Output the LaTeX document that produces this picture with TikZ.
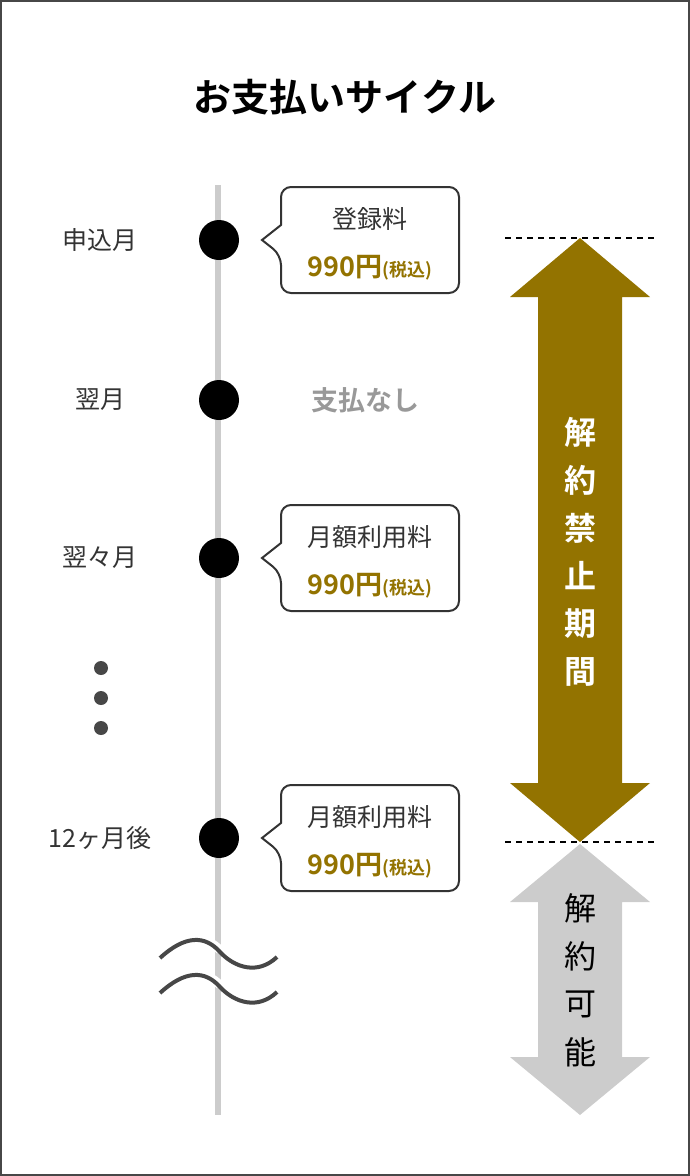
\documentclass[tikz,border=0pt]{standalone}
\usepackage{fontspec}
\setmainfont{Noto Sans CJK JP}
\newfontfamily\jpb{Noto Sans CJK JP Bold}
\definecolor{olive}{HTML}{937300}
\definecolor{txt}{HTML}{333333}
\definecolor{lgray}{HTML}{CCCCCC}
\begin{document}
\begin{tikzpicture}[x=1pt,y=-1pt,
  lbl/.style={text=txt,font=\fontsize{25}{25}\selectfont},
  dot/.style={circle,fill=black,minimum size=40pt,inner sep=0pt},
  price/.style={text=olive,font=\jpb\fontsize{27}{27}\selectfont},
  vch/.style={font=\jpb\fontsize{32}{32}\selectfont}]
\useasboundingbox (0,0) rectangle (690,1176);
\draw[line width=2pt,color=txt!90] (1,1) rectangle (689,1175);
\node (title) at (345,97) {\jpb\fontsize{38}{38}\selectfont お支払いサイクル};
\coordinate (lt) at (218,185); \coordinate (lb) at (218,1115);
\draw[line width=6pt,lgray] (lt) -- (lb);
\foreach \n/\y/\t in {a/240/申込月,b/400/翌月,c/558/翌々月,d/838/12ヶ月後}{
  \node[dot] (d\n) at (219,\y) {};
  \node[lbl] (l\n) at (100,\y) {\t};
}
\foreach \y [count=\i] in {668,698,728}{\fill[txt!90] (101,\y) circle (7);}
\node[text=black!40,font=\jpb\fontsize{27}{27}\selectfont] (none) at (365,400) {支払なし};
\foreach \n/\y/\t in {a/240/登録料,c/558/月額利用料,d/838/月額利用料}{
  \draw[line width=2pt,color=txt,rounded corners=10pt,fill=white]
    (281,\y-15) -- (281,\y-53) -- (459,\y-53) -- (459,\y+53) -- (281,\y+53) -- (281,\y+15) [sharp corners] -- (262,\y) -- cycle;
  \node[lbl] (t\n) at (370,\y-21) {\t};
  \node[price] (p\n) at (370,\y+28) {990円\fontsize{18}{18}\selectfont(税込)};
}
\draw[line width=2.5pt,dash pattern=on 6pt off 5pt] (505,238) -- (655,238);
\draw[line width=2.5pt,dash pattern=on 6pt off 5pt] (505,842) -- (655,842);
\fill[olive] (580,238) -- (650,297) -- (622,297) -- (622,783) -- (650,783) -- (580,842) -- (510,783) -- (538,783) -- (538,297) -- (510,297) -- cycle;
\fill[lgray] (580,844) -- (650,902) -- (622,902) -- (622,1057) -- (650,1057) -- (580,1115) -- (510,1057) -- (538,1057) -- (538,902) -- (510,902) -- cycle;
\foreach \c [count=\i] in {解,約,禁,止,期,間}{
  \node[vch,text=white] at (580,384+\i*48) {\c};}
\foreach \c [count=\i] in {解,約,可,能}{
  \node[vch,text=black,font=\fontsize{32}{32}\selectfont] at (580,860+\i*48) {\c};}
\foreach \yy in {0,35}{
  \draw[line width=9pt,white] (163,955+\yy) .. controls (185,935+\yy) and (205,935+\yy) .. (220,950+\yy);
  \draw[line width=4pt,txt!90] (160,958+\yy) .. controls (185,935+\yy) and (205,935+\yy) .. (220,952+\yy)
     .. controls (235,968+\yy) and (258,975+\yy) .. (277,957+\yy);
}
\end{tikzpicture}
\end{document}
